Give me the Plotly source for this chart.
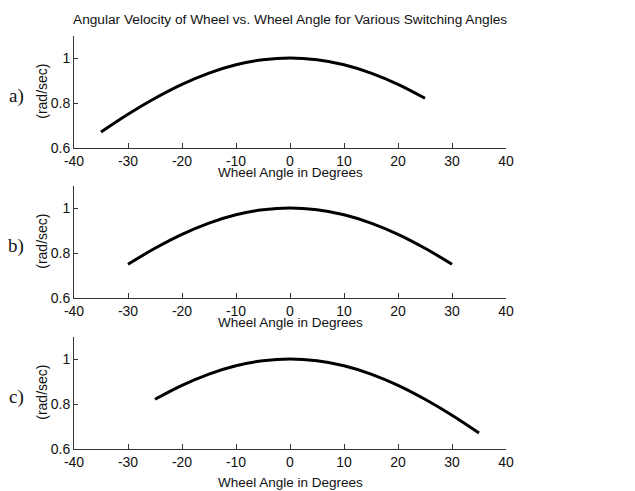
import plotly.graph_objects as go

# Data (angular velocity in rad/sec vs wheel angle in degrees)
angle_a = [-35, -30, -25, -20, -15, -10, -5, 0, 5, 10, 15, 20, 25]
vel_a = [0.671, 0.750, 0.821, 0.883, 0.933, 0.970, 0.992, 1.000, 0.992, 0.970, 0.933, 0.883, 0.821]

angle_b = [-30, -25, -20, -15, -10, -5, 0, 5, 10, 15, 20, 25, 30]
vel_b = [0.750, 0.821, 0.883, 0.933, 0.970, 0.992, 1.000, 0.992, 0.970, 0.933, 0.883, 0.821, 0.750]

angle_c = [-25, -20, -15, -10, -5, 0, 5, 10, 15, 20, 25, 30, 35]
vel_c = [0.821, 0.883, 0.933, 0.970, 0.992, 1.000, 0.992, 0.970, 0.933, 0.883, 0.821, 0.750, 0.671]

panel_labels = ["a)", "b)", "c)"]
x_ticks = [-40, -30, -20, -10, 0, 10, 20, 30, 40]
x_tick_text = ["-40", "-30", "-20", "-10", "0", "10", "20", "30", "40"]
y_ticks = [0.6, 0.8, 1.0]
y_tick_text = ["0.6", "0.8", "1"]

W, H = 635, 491
panels_px = [(35.5, 148), (185.5, 298), (336.5, 449)]
xtitle_offsets = [24.5, 24, 33]
x_left, x_right = 74, 506

fig = go.Figure()
series = [(angle_a, vel_a), (angle_b, vel_b), (angle_c, vel_c)]
font = "Liberation Sans, Arial, sans-serif"

for i, ((xs, ys), (top, bot)) in enumerate(zip(series, panels_px)):
    n = "" if i == 0 else str(i + 1)
    fig.add_trace(go.Scatter(x=xs, y=ys, mode="lines", line=dict(color="black", width=3, shape="spline"),
                             xaxis="x" + n, yaxis="y" + n, showlegend=False, hoverinfo="skip"))
    xd = [x_left / W, x_right / W]
    yd = [(H - bot) / H, (H - top) / H]
    fig.update_layout(**{
        "xaxis" + n: dict(domain=xd, range=[-40, 40], tickvals=x_ticks, ticktext=x_tick_text,
                          ticks="inside", ticklen=5, tickcolor="#333", showline=True, linecolor="#333",
                          linewidth=1, showgrid=False, zeroline=False, anchor="y" + n,
                          tickfont=dict(size=14, color="#111", family=font), automargin=False),
        "yaxis" + n: dict(domain=yd, range=[0.6, 1.1], tickvals=y_ticks, ticktext=y_tick_text,
                          ticks="inside", ticklen=4, tickcolor="#333", showline=True, linecolor="#333",
                          linewidth=1, showgrid=False, zeroline=False, anchor="x" + n,
                          tickfont=dict(size=14, color="#111", family=font), automargin=False),
    })
    xt_y = bot + xtitle_offsets[i]
    fig.add_annotation(text="Wheel Angle in Degrees", x=(x_left + x_right) / 2 / W, y=(H - xt_y) / H,
                       xref="paper", yref="paper", showarrow=False, xanchor="center", yanchor="middle",
                       font=dict(size=13.5, color="#111", family=font))
    fig.add_annotation(text="(rad/sec)", x=42 / W, y=(H - (top + bot) / 2) / H, textangle=-90,
                       xref="paper", yref="paper", showarrow=False, xanchor="center", yanchor="middle",
                       font=dict(size=14, color="#111", family=font))
    fig.add_annotation(text=panel_labels[i], x=16 / W, y=(H - ((top + bot) / 2 + 4)) / H,
                       xref="paper", yref="paper", showarrow=False, xanchor="center", yanchor="middle",
                       font=dict(size=19, color="#111", family="Liberation Serif, Times New Roman, serif"))

fig.add_annotation(text="Angular Velocity of Wheel vs. Wheel Angle for Various Switching Angles",
                   x=(x_left + x_right) / 2 / W, y=(H - 20) / H, xref="paper", yref="paper",
                   showarrow=False, xanchor="center", yanchor="middle",
                   font=dict(size=13.7, color="#111", family=font))

fig.update_layout(width=W, height=H, margin=dict(l=0, r=0, t=0, b=0),
                  paper_bgcolor="white", plot_bgcolor="white")
fig.write_html("out.html", config={"displayModeBar": False, "staticPlot": True})

# remove the browser's default body margin so the figure sits at the page origin
with open("out.html", "r", encoding="utf-8") as f:
    html = f.read()
html = html.replace("<head>", "<head><style>html,body{margin:0;padding:0;overflow:hidden;}</style>", 1)
with open("out.html", "w", encoding="utf-8") as f:
    f.write(html)
